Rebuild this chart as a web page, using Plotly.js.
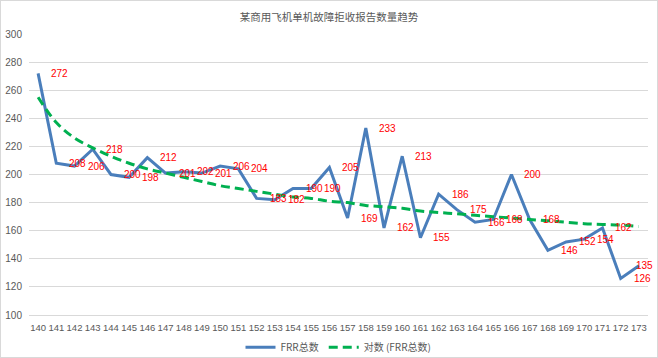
<!DOCTYPE html>
<html>
<head>
<meta charset="utf-8">
<script src="https://cdn.plot.ly/plotly-3.0.1.min.js"></script>
<style>
html,body{margin:0;padding:0;background:#fff;}
#chart{width:656px;height:356px;border:1px solid #d9d9d9;}
</style>
</head>
<body>
<div id="chart"></div>
<script>
var categories = ['140','141','142','143','144','145','146','147','148','149','150','151','152','153','154','155','156','157','158','159','160','161','162','163','164','165','166','167','168','169','170','171','172','173'];
var frrTotal = [272,208,206,218,200,198,212,201,202,201,206,204,183,182,190,190,205,169,233,162,213,155,186,175,166,168,200,168,146,152,154,162,126,135];
var trendValues = [255,237,226,219,213,208,204,201,198,195,192,190,188,186,184,183,181,180,178,177,176,174,173,172,171,170,169,168,167,166,165,164.5,164,163];
var seriesName = 'FRR总数';
var trendName = '对数 (FRR总数)';
var chartTitle = '某商用飞机单机故障拒收报告数量趋势';
var yTicks = [100,120,140,160,180,200,220,240,260,280,300];

var fontFam = 'Liberation Sans, Arial, "Noto Sans CJK SC", sans-serif';
var grey = '#595959';

var traces = [
  {
    x: categories, y: frrTotal, type: 'scatter', mode: 'lines', name: seriesName,
    line: {color: '#4a7ebb', width: 3}, hoverinfo: 'skip'
  },
  {
    x: categories, y: trendValues, type: 'scatter', mode: 'lines', name: trendName,
    line: {color: '#00b050', width: 3, dash: '9px,5px', shape: 'spline'}, hoverinfo: 'skip'
  }
];

var lastIdx = categories.length - 1;
var annotations = categories.map(function(c, i){
  var isLast = (i === lastIdx);
  return {
    x: i, y: frrTotal[i], xref: 'x', yref: 'y', text: String(frrTotal[i]),
    showarrow: false, xanchor: 'left', yanchor: 'middle', xshift: isLast ? -5 : 11,
    font: {family: fontFam, size: 10, color: '#ff0000'}
  };
});

var layout = {
  width: 656, height: 356,
  margin: {l: 28, r: 9, t: 33, b: 42, autoexpand: false},
  paper_bgcolor: '#ffffff', plot_bgcolor: '#ffffff',
  title: {text: chartTitle, x: 0.5, xanchor: 'center', y: 0.955, yanchor: 'middle',
          font: {family: '"Noto Sans CJK SC", sans-serif', size: 10.5, color: grey}},
  xaxis: {
    type: 'category', categoryorder: 'array', categoryarray: categories,
    range: [-0.5, categories.length - 0.5], automargin: false,
    tickmode: 'array', tickvals: categories, ticktext: categories, tickangle: 0,
    showgrid: false, zeroline: false,
    showline: true, linecolor: '#d9d9d9', linewidth: 1, ticks: '',
    tickfont: {family: fontFam, size: 9.5, color: grey}, ticklabelstandoff: 4
  },
  yaxis: {
    range: [100, 300], tickvals: yTicks, ticktext: yTicks.map(String), automargin: false,
    showgrid: true, gridcolor: '#d9d9d9', gridwidth: 1, zeroline: false, showline: false, ticks: '',
    tickfont: {family: fontFam, size: 10, color: grey}, ticklabelstandoff: 6
  },
  showlegend: true,
  legend: {orientation: 'h', x: 0.5, xanchor: 'center', y: -0.115, yanchor: 'middle',
           font: {family: '"Noto Sans CJK SC", sans-serif', size: 10, color: grey},
           bgcolor: 'rgba(0,0,0,0)'},
  annotations: annotations,
  hovermode: false
};

Plotly.newPlot('chart', traces, layout, {displayModeBar: false, staticPlot: true});
</script>
</body>
</html>
